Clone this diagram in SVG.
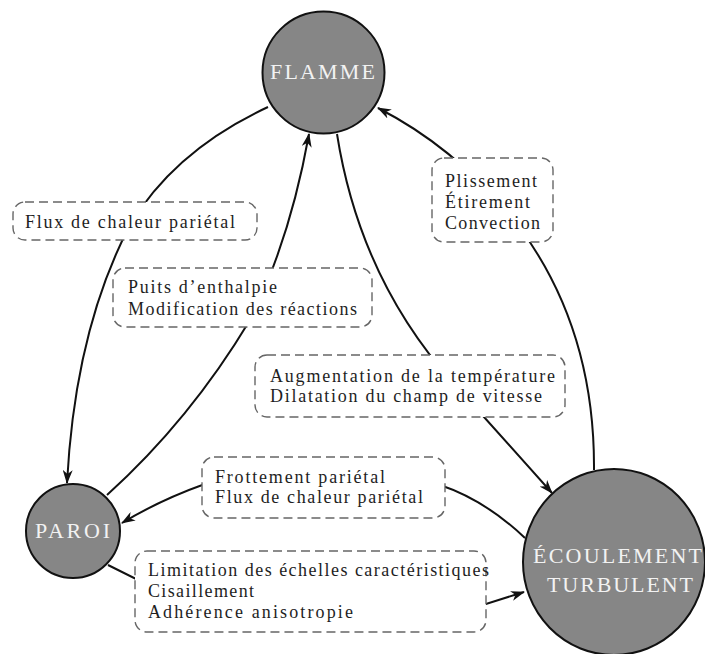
<svg xmlns="http://www.w3.org/2000/svg" width="705" height="654" viewBox="0 0 705 654">
<style>
.node{fill:#868686;stroke:#111;stroke-width:2}
.nl{font-family:"Liberation Serif","DejaVu Serif",serif;font-size:22px;fill:#f2f2f2;text-anchor:start}
.box{fill:#fff;stroke:#666;stroke-width:1.4;stroke-dasharray:9 5}
.lb{font-family:"Liberation Serif","DejaVu Serif",serif;font-size:18px;fill:#1e1e1e}
.c{fill:none;stroke:#111;stroke-width:2}
</style>
<defs>
<marker id="ah" viewBox="0 0 14 10" refX="13" refY="5" markerWidth="14" markerHeight="10" markerUnits="userSpaceOnUse" orient="auto">
<path d="M0,0 L14,5 L0,10 L4,5 z" fill="#111"/>
</marker>
</defs>
<g id="connectors">
<path class="c" d="M268,107 Q175,150 130,225 Q75,330 67,483" marker-end="url(#ah)"/>
<path class="c" d="M107,495 Q190,420 250,320 Q290,240 309,134" marker-end="url(#ah)"/>
<path class="c" d="M337,134 Q360,280 455,385 Q505,440 552,493" marker-end="url(#ah)"/>
<path class="c" d="M594,470 Q595,330 520,228 Q460,150 378,108" marker-end="url(#ah)"/>
<path class="c" d="M525,538 Q485,500 440,485 L205,484 Q160,500 122,523" marker-end="url(#ah)"/>
<path class="c" d="M108,565 L138,580 L486,604 L524,592" marker-end="url(#ah)"/>
</g>
<g id="label-flux">
<rect class="box" x="13" y="202" width="244" height="38" rx="12"/>
<text class="lb" x="25" y="228" textLength="210" lengthAdjust="spacing">Flux de chaleur pariétal</text>
</g>
<g id="label-puits">
<rect class="box" x="113" y="268" width="259" height="59" rx="12"/>
<text class="lb" x="128" y="293" textLength="149" lengthAdjust="spacing">Puits d’enthalpie</text>
<text class="lb" x="128" y="315" textLength="229" lengthAdjust="spacing">Modification des réactions</text>
</g>
<g id="label-plissement">
<rect class="box" x="432" y="158" width="121" height="84" rx="12"/>
<text class="lb" x="445" y="187" textLength="92" lengthAdjust="spacing">Plissement</text>
<text class="lb" x="445" y="208" textLength="85" lengthAdjust="spacing">Étirement</text>
<text class="lb" x="445" y="229" textLength="95" lengthAdjust="spacing">Convection</text>
</g>
<g id="label-augmentation">
<rect class="box" x="255" y="355" width="310" height="62" rx="12"/>
<text class="lb" x="270" y="382" textLength="285" lengthAdjust="spacing">Augmentation de la température</text>
<text class="lb" x="270" y="402" textLength="272" lengthAdjust="spacing">Dilatation du champ de vitesse</text>
</g>
<g id="label-frottement">
<rect class="box" x="202" y="457" width="243" height="61" rx="12"/>
<text class="lb" x="215" y="483" textLength="170" lengthAdjust="spacing">Frottement pariétal</text>
<text class="lb" x="215" y="503" textLength="208" lengthAdjust="spacing">Flux de chaleur pariétal</text>
</g>
<g id="label-limitation">
<rect class="box" x="135" y="551" width="351" height="81" rx="12"/>
<text class="lb" x="148" y="576" textLength="341" lengthAdjust="spacing">Limitation des échelles caractéristiques</text>
<text class="lb" x="148" y="597" textLength="106" lengthAdjust="spacing">Cisaillement</text>
<text class="lb" x="148" y="618" textLength="205" lengthAdjust="spacing">Adhérence anisotropie</text>
</g>
<g id="node-flamme">
<circle class="node" cx="323.5" cy="72.5" r="61"/>
<text class="nl" x="270" y="79" textLength="105" lengthAdjust="spacing">FLAMME</text>
</g>
<g id="node-paroi">
<circle class="node" cx="73" cy="531" r="47"/>
<text class="nl" x="35" y="538" textLength="75" lengthAdjust="spacing">PAROI</text>
</g>
<g id="node-ecoulement">
<ellipse class="node" cx="614" cy="562" rx="91" ry="93"/>
<text class="nl" x="533" y="563" textLength="169" lengthAdjust="spacing">ÉCOULEMENT</text>
<text class="nl" x="547" y="592" textLength="146" lengthAdjust="spacing">TURBULENT</text>
</g>
</svg>
